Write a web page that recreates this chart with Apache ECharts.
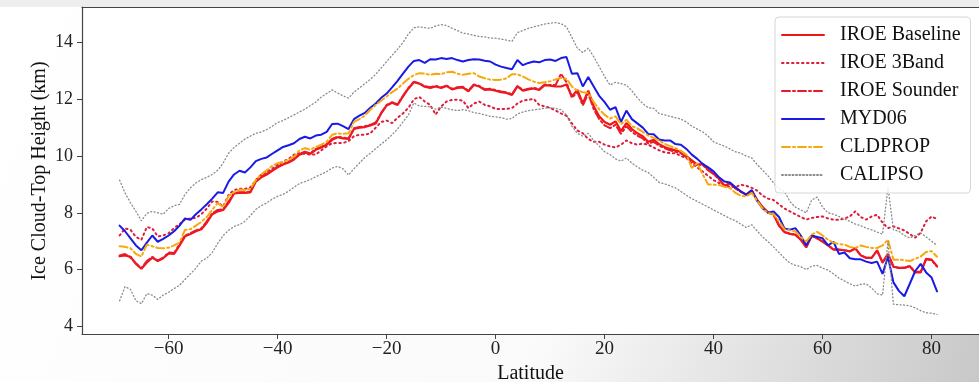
<!DOCTYPE html>
<html>
<head>
<meta charset="utf-8">
<script src="https://cdn.jsdelivr.net/npm/echarts@6/dist/echarts.min.js"></script>
<style>
html,body{margin:0;padding:0;background:#fff;}
#chart{width:979px;height:382px;}
</style>
</head>
<body>
<div id="chart"></div>
<script>
const latitudes = [
-69,-68,-67,-66,-65,-64,-63,-62,-61,-60,
-59,-58,-57,-56,-55,-54,-53,-52,-51,-50,
-49,-48,-47,-46,-45,-44,-43,-42,-41,-40,
-39,-38,-37,-36,-35,-34,-33,-32,-31,-30,
-29,-28,-27,-26,-25,-24,-23,-22,-21,-20,
-19,-18,-17,-16,-15,-14,-13,-12,-11,-10,
-9,-8,-7,-6,-5,-4,-3,-2,-1,0,
1,2,3,4,5,6,7,8,9,10,
11,12,13,14,15,16,17,18,19,20,
21,22,23,24,25,26,27,28,29,30,
31,32,33,34,35,36,37,38,39,40,
41,42,43,44,45,46,47,48,49,50,
51,52,53,54,55,56,57,58,59,60,
61,62,63,64,65,66,67,68,69,70,
71,72,73,74,75,76,77,78,79,80,81
];

const iroeBaseline = [
6.47,6.5,6.45,6.2,6.03,6.25,6.42,6.3,6.4,6.57,
6.55,6.85,7.17,7.25,7.35,7.42,7.65,7.95,8.05,8.1,
8.35,8.68,8.7,8.7,8.72,9.1,9.25,9.35,9.48,9.6,
9.7,9.77,9.88,10.05,10.12,10.08,10.22,10.3,10.4,10.57,
10.66,10.62,10.6,10.95,11.0,11.02,11.08,11.15,11.5,11.78,
11.88,11.8,12.1,12.38,12.6,12.55,12.44,12.4,12.45,12.4,
12.47,12.35,12.4,12.42,12.28,12.5,12.45,12.33,12.35,12.3,
12.25,12.22,12.15,12.45,12.3,12.35,12.38,12.33,12.5,12.48,
12.45,12.45,12.52,12.1,12.33,11.85,12.3,11.75,11.4,11.2,
11.1,11.22,10.88,11.16,10.95,10.8,10.7,10.5,10.57,10.42,
10.32,10.25,10.2,10.15,10.0,9.85,9.7,9.72,9.52,9.38,
9.2,8.95,9.04,8.88,8.75,8.64,8.78,8.45,8.2,8.02,
7.95,7.55,7.32,7.26,7.23,7.05,6.78,7.2,7.1,6.99,
6.85,6.7,6.7,6.68,6.64,6.75,6.5,6.41,6.41,6.68,
6.25,6.55,6.1,6.06,6.06,6.12,5.9,5.9,6.38,6.35,6.12
];

const iroe3Band = [
7.2,7.45,7.4,7.15,7.05,7.5,7.45,7.17,7.2,7.28,
7.46,7.6,7.76,7.8,7.82,7.95,8.15,8.4,8.38,8.22,
8.64,8.8,8.85,8.84,8.9,9.15,9.35,9.45,9.55,9.7,
9.8,9.9,10.05,10.1,10.08,10.05,10.05,10.2,10.34,10.45,
10.46,10.46,10.52,10.7,10.75,10.75,10.8,11.0,11.2,11.25,
11.16,11.35,11.5,11.7,12.0,12.08,11.92,11.8,11.46,11.75,
11.92,11.98,11.98,11.95,11.69,11.85,11.92,11.8,11.75,11.66,
11.66,11.66,11.69,11.85,11.95,11.98,12.01,11.8,11.75,11.7,
11.6,11.5,11.42,11.15,10.9,10.8,10.6,10.5,10.5,10.4,
10.34,10.3,10.4,10.55,10.45,10.4,10.44,10.4,10.3,10.2,
10.13,10.1,10.1,10.0,9.93,9.75,9.6,9.45,9.3,9.15,
9.05,8.95,8.92,8.9,8.99,8.95,8.88,8.78,8.6,8.5,
8.45,8.3,8.15,8.05,7.95,7.85,7.76,7.82,7.85,7.87,
7.8,7.76,7.75,7.8,7.87,8.05,7.85,7.76,7.87,7.93,
7.65,7.46,7.52,7.45,7.38,7.25,7.12,7.3,7.7,7.87,7.78
];

const iroeSounder = [
6.5,6.55,6.42,6.22,6.05,6.3,6.45,6.32,6.42,6.6,
6.58,6.9,7.2,7.28,7.38,7.45,7.7,7.98,8.1,8.12,
8.4,8.7,8.72,8.72,8.75,9.12,9.28,9.38,9.5,9.63,
9.72,9.8,9.9,10.08,10.15,10.1,10.25,10.32,10.42,10.6,
10.68,10.65,10.62,10.98,11.02,11.05,11.1,11.18,11.52,11.8,
11.9,11.82,12.12,12.4,12.62,12.56,12.46,12.42,12.47,12.42,
12.48,12.37,12.42,12.44,12.3,12.52,12.47,12.35,12.37,12.32,
12.27,12.24,12.18,12.47,12.32,12.37,12.4,12.36,12.52,12.5,
12.5,12.9,12.6,12.05,12.25,11.78,12.2,11.65,11.3,11.08,
10.98,11.1,10.78,11.05,10.85,10.72,10.62,10.44,10.5,10.36,
10.28,10.2,10.15,10.1,9.96,9.82,9.68,9.68,9.5,9.36,
9.18,8.96,9.02,8.86,8.74,8.62,8.76,8.44,8.18,8.0,
7.93,7.55,7.32,7.26,7.22,7.05,6.8,7.18,7.1,6.98,
6.85,6.72,6.7,6.68,6.64,6.74,6.5,6.42,6.42,6.66,
6.25,6.55,6.1,6.06,6.06,6.12,5.92,5.92,6.36,6.33,6.1
];

const myd06 = [
7.55,7.35,7.1,6.85,6.68,6.95,7.2,6.98,7.08,7.2,
7.35,7.55,7.8,7.75,7.95,8.12,8.3,8.5,8.72,8.7,
9.1,9.35,9.48,9.42,9.6,9.82,9.9,9.95,10.08,10.2,
10.32,10.38,10.45,10.6,10.68,10.62,10.72,10.75,10.85,11.13,
11.14,11.05,10.95,11.3,11.42,11.52,11.7,11.85,12.05,12.2,
12.42,12.65,12.9,13.15,13.35,13.38,13.28,13.41,13.4,13.45,
13.42,13.45,13.38,13.33,13.38,13.41,13.4,13.36,13.33,13.22,
13.15,13.1,13.06,13.38,13.2,13.28,13.33,13.3,13.38,13.4,
13.35,13.45,13.49,12.9,12.92,12.45,12.78,12.45,12.12,11.9,
11.63,11.72,11.2,11.6,11.3,11.15,11.0,10.78,10.77,10.58,
10.55,10.55,10.42,10.4,10.25,10.05,9.9,9.72,9.6,9.46,
9.25,9.1,9.07,8.9,8.75,8.64,8.8,8.42,8.15,8.0,
8.05,7.85,7.45,7.4,7.46,7.2,6.85,7.2,7.15,7.1,
6.85,6.98,6.55,6.6,6.4,6.36,6.36,6.28,6.23,6.28,
5.85,6.45,5.55,5.25,5.06,5.5,5.95,6.2,5.9,5.72,5.23
];

const cldprop = [
6.82,6.8,6.75,6.55,6.46,6.88,6.82,6.76,6.75,6.77,
6.85,6.95,7.4,7.42,7.55,7.68,7.85,8.1,8.35,8.2,
8.6,8.72,8.82,8.8,8.85,9.15,9.35,9.5,9.65,9.75,
9.8,9.86,9.98,10.2,10.28,10.22,10.32,10.4,10.5,10.75,
10.8,10.78,10.8,11.2,11.3,11.42,11.63,11.8,11.95,12.1,
12.25,12.38,12.55,12.72,12.85,12.92,12.9,12.86,12.9,12.88,
12.95,12.97,12.9,12.86,12.9,12.92,12.8,12.74,12.69,12.68,
12.69,12.74,12.88,12.88,12.8,12.7,12.62,12.57,12.6,12.63,
12.7,12.75,12.72,12.45,12.3,12.25,12.22,11.9,11.65,11.45,
11.32,11.4,11.12,11.28,11.05,10.98,10.85,10.72,10.64,10.55,
10.43,10.35,10.28,10.18,10.05,9.58,9.75,9.35,9.0,8.99,
8.98,8.92,8.87,8.7,8.6,8.58,8.7,8.42,8.15,7.99,
7.95,7.7,7.42,7.38,7.35,7.15,6.99,7.23,7.33,7.2,
7.05,6.95,6.9,6.88,6.8,6.76,6.85,6.8,6.76,6.76,
6.85,7.05,6.35,6.35,6.33,6.3,6.38,6.46,6.62,6.65,6.45
];

const calipsoUpper = [
9.15,8.7,8.35,8.05,7.72,7.98,8.05,8.0,7.95,8.15,
8.25,8.3,8.65,8.88,9.05,9.17,9.25,9.35,9.5,9.75,
10.1,10.3,10.45,10.6,10.7,10.8,10.85,10.93,11.05,11.18,
11.25,11.35,11.45,11.55,11.65,11.78,11.9,12.08,12.2,12.33,
12.22,12.12,12.04,12.25,12.4,12.55,12.7,12.88,13.1,13.33,
13.55,13.76,14.0,14.3,14.52,14.55,14.52,14.5,14.58,14.63,
14.6,14.5,14.42,14.33,14.3,14.25,14.21,14.2,14.15,14.15,
14.12,14.08,14.04,14.35,14.42,14.5,14.55,14.6,14.65,14.68,
14.7,14.66,14.55,14.18,13.8,13.65,13.8,13.5,13.15,12.8,
12.5,12.6,12.55,12.5,12.3,12.05,11.85,11.7,11.68,11.5,
11.45,11.4,11.35,11.3,11.2,11.05,10.95,10.85,10.7,10.5,
10.42,10.35,10.25,10.15,10.1,10.0,9.93,9.7,9.5,9.3,
9.05,8.85,8.75,8.4,8.2,8.1,8.0,8.45,8.55,8.2,
8.0,7.95,7.87,7.78,7.7,7.6,7.55,7.46,7.4,7.32,
7.25,8.9,7.4,7.35,7.2,7.11,7.2,7.29,7.15,7.0,6.85
];

const calipsoLower = [
4.9,5.4,5.3,4.9,4.8,5.15,5.1,4.95,5.1,5.2,
5.33,5.45,5.65,5.85,6.05,6.3,6.4,6.6,6.92,7.2,
7.38,7.52,7.58,7.7,7.9,8.12,8.25,8.35,8.48,8.58,
8.65,8.76,8.9,9.03,9.1,9.17,9.27,9.36,9.45,9.58,
9.63,9.55,9.33,9.55,9.75,9.95,10.1,10.26,10.42,10.57,
10.75,10.95,11.2,11.45,11.87,11.76,11.75,11.73,11.65,11.72,
11.68,11.63,11.6,11.63,11.6,11.53,11.5,11.45,11.4,11.38,
11.35,11.3,11.32,11.48,11.55,11.6,11.63,11.65,11.69,11.7,
11.68,11.63,11.45,11.05,10.8,10.7,10.8,10.55,10.35,10.15,
10.05,9.9,9.82,9.93,9.75,9.62,9.5,9.42,9.25,9.07,
9.02,8.95,8.88,8.75,8.62,8.5,8.4,8.3,8.2,8.1,
8.0,7.9,7.8,7.72,7.6,7.48,7.58,7.36,7.15,6.98,
6.8,6.6,6.4,6.23,6.15,6.1,6.0,6.12,6.15,6.05,
5.98,5.85,5.7,5.6,5.5,5.42,5.48,5.5,5.35,5.15,
5.1,7.0,4.78,4.76,4.75,4.72,4.65,4.55,4.48,4.46,4.42
];

const xTicks = [-60, -40, -20, 0, 20, 40, 60, 80];
const yTicks = [4, 6, 8, 10, 12, 14];
const yTitle = 'Ice Cloud-Top Height (km)';

const pairs = vals => latitudes.map((lat, i) => [lat, vals[i]]);
const FONT = '"Liberation Serif", "DejaVu Serif", serif';

const chart = echarts.init(document.getElementById('chart'), null, {renderer: 'canvas'});

function lineSeries(name, vals, color, width, type) {
  return {
    name: name, type: 'line', data: pairs(vals), symbol: 'none', showSymbol: false,
    animation: false,
    lineStyle: {color: color, width: width, type: type, cap: 'round'},
    itemStyle: {color: color}
  };
}

chart.setOption({
  animation: false,
  backgroundColor: 'transparent',
  graphic: [
    {type: 'rect', z: -100, silent: true, shape: {x: 0, y: 0, width: 979, height: 382},
      style: {fill: new echarts.graphic.LinearGradient(0, 0, 1, 1, [
        {offset: 0, color: '#ffffff'}, {offset: 0.6, color: '#fafafa'}, {offset: 1, color: '#c8c8c8'}])}},
    {type: 'rect', z: -99, silent: true, shape: {x: 0, y: 0, width: 979, height: 7},
      style: {fill: '#eeeeee'}},
    {type: 'text', x: 40, y: 171, rotation: Math.PI / 2, silent: true, z: 10,
      style: {text: yTitle, fontFamily: FONT, fontSize: 20, fill: '#111',
        align: 'center', verticalAlign: 'middle'}}
  ],
  grid: {left: 82, right: 0, top: 7, bottom: 48, containLabel: false, outerBoundsMode: 'none',
    show: true, backgroundColor: '#ffffff', borderWidth: 0},
  legend: {
    orient: 'vertical', left: 775, top: 17,
    itemWidth: 42, itemHeight: 12, itemGap: 8,
    padding: [8, 10, 8, 6],
    backgroundColor: 'rgba(255,255,255,0.85)', borderColor: '#d6d6d6', borderWidth: 1, borderRadius: 4,
    itemStyle: {opacity: 0},
    textStyle: {fontFamily: FONT, fontSize: 20, color: '#111', padding: [0, 0, 0, 11]},
    data: ['IROE Baseline', 'IROE 3Band', 'IROE Sounder', 'MYD06', 'CLDPROP', 'CALIPSO']
  },
  xAxis: [{
    type: 'value', min: -75.9, max: 88.7,
    name: 'Latitude', nameLocation: 'middle', nameGap: 28,
    nameTextStyle: {fontFamily: FONT, fontSize: 20, color: '#111'},
    axisLine: {show: true, onZero: false, lineStyle: {color: '#444', width: 1.2}},
    axisTick: {show: true, length: 5, customValues: xTicks, lineStyle: {color: '#444'}},
    axisLabel: {show: true, customValues: xTicks, margin: 6, fontFamily: FONT, fontSize: 19, color: '#222',
      formatter: v => String(v).replace('-', '\u2212')},
    splitLine: {show: false}
  }, {
    type: 'value', position: 'top', min: -75.9, max: 88.7,
    axisLine: {show: true, onZero: false, lineStyle: {color: '#444', width: 1.2}},
    axisTick: {show: false}, axisLabel: {show: false}, splitLine: {show: false}
  }],
  yAxis: {
    type: 'value', min: 3.73, max: 15.25, position: 'left',
    axisLine: {show: true, onZero: false, lineStyle: {color: '#444', width: 1.2}},
    axisTick: {show: true, length: 5, customValues: yTicks, lineStyle: {color: '#444'}},
    axisLabel: {show: true, customValues: yTicks, margin: 9, fontFamily: FONT, fontSize: 18, color: '#222'},
    splitLine: {show: false}
  },
  series: [
    lineSeries('IROE Baseline', iroeBaseline, '#f41414', 2.2, 'solid'),
    lineSeries('IROE 3Band', iroe3Band, '#dc1e3c', 2, [1.5, 3.5]),
    lineSeries('IROE Sounder', iroeSounder, '#e81a2c', 2, [8, 3, 2, 3]),
    lineSeries('MYD06', myd06, '#1a1ae6', 2, 'solid'),
    lineSeries('CLDPROP', cldprop, '#f7a90c', 2, [8, 3, 2, 3]),
    lineSeries('CALIPSO', calipsoUpper, '#8a8a8a', 1.3, [1, 2.5]),
    lineSeries('CALIPSO', calipsoLower, '#8a8a8a', 1.3, [1, 2.5])
  ]
});
</script>
</body>
</html>
